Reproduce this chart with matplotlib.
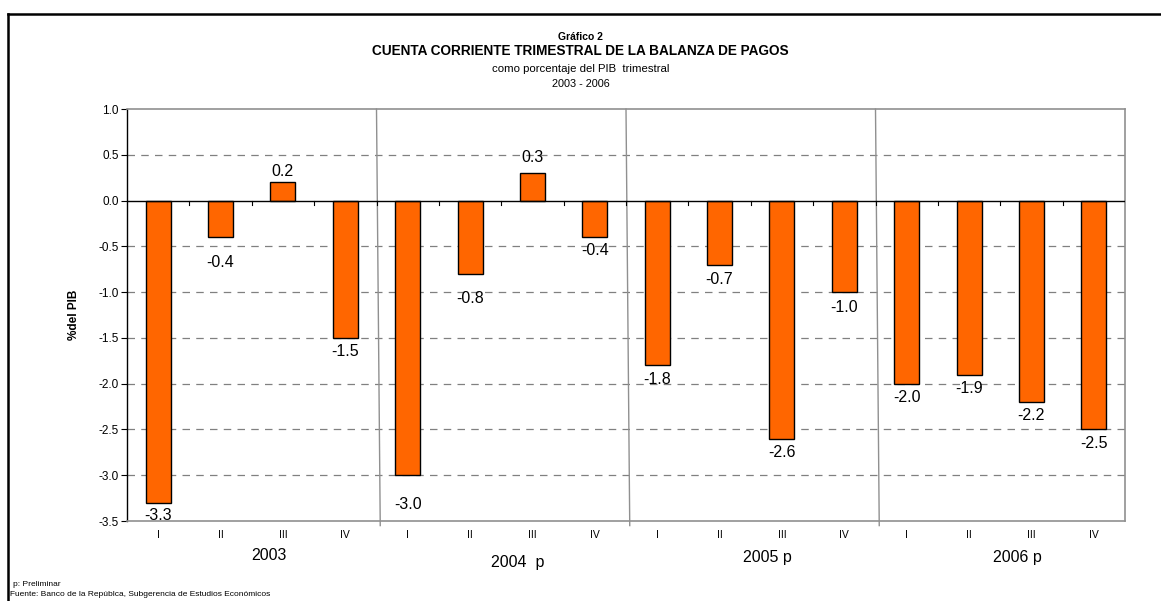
import matplotlib
matplotlib.use("Agg")
import matplotlib.pyplot as plt
from matplotlib.lines import Line2D
import numpy as np

plt.rcParams['font.family'] = ['Liberation Sans', 'DejaVu Sans']

quarters = ["I", "II", "III", "IV"] * 4
years = ["2003", "2004  p", "2005 p", "2006 p"]
values = [-3.3, -0.4, 0.2, -1.5,
          -3.0, -0.8, 0.3, -0.4,
          -1.8, -0.7, -2.6, -1.0,
          -2.0, -1.9, -2.2, -2.5]
yticks = [1.0, 0.5, 0.0, -0.5, -1.0, -1.5, -2.0, -2.5, -3.0, -3.5]

# extra vertical nudge (points) of each data label away from its bar
label_nudge = [-1, 8, 0, 0,
               11, 8, 4, 0,
               0, 1, 0, 1,
               0, 0, 0, 0]

fig = plt.figure(figsize=(11.61, 6.01), dpi=100)
ax = fig.add_axes([127/1161, 1-521/601, (1125-127)/1161, (521-109)/601])

x = np.arange(len(values))
ax.bar(x, values, width=0.4, color="#FF6600", edgecolor="black", linewidth=1.0, zorder=3)

ax.set_xlim(-0.5, len(values)-0.5)
ax.set_ylim(-3.5, 1.0)
ax.set_yticks(yticks)
ax.set_yticklabels([f"{v:.1f}" for v in yticks], fontsize=8.5)

for v in yticks:
    if v not in (1.0, -3.5, 0.0):
        ax.axhline(v, color="#808080", linestyle=(0, (6, 5)), linewidth=0.9, zorder=1)

ax.axhline(0, color="black", linewidth=1.0, zorder=4)
for b in np.arange(0.5, len(values)-0.5, 1.0):
    ax.plot([b, b], [0, -0.045], color="black", linewidth=0.8, zorder=4)

for g in range(1, 4):
    b = 4*g - 0.5
    ax.plot([b, b+0.06], [1.0, -3.55], color="#909090", linewidth=1.0, zorder=2, clip_on=False)

for s in ["top", "right", "bottom"]:
    ax.spines[s].set_color("#909090")
    ax.spines[s].set_linewidth(1.2)
ax.spines["left"].set_color("black")
ax.spines["left"].set_linewidth(1.0)

ax.tick_params(axis="y", length=4, width=0.8, pad=2, direction="out")
ax.set_xticks([])

for i, q in enumerate(quarters):
    ax.text(i, -3.65, q, ha="center", va="center", fontsize=7.5)

year_y = [-3.88, -3.95, -3.90, -3.90]
for g, yl in enumerate(years):
    ax.text(4*g + 1.77, year_y[g], yl, ha="center", va="center", fontsize=11.5)

for i, v in enumerate(values):
    if v >= 0:
        ax.annotate(f"{v:.1f}", (i, v), xytext=(0, 2 + label_nudge[i]), textcoords="offset points",
                    ha="center", va="bottom", fontsize=11.5, zorder=5)
    else:
        ax.annotate(f"{v:.1f}", (i, v), xytext=(0, -4.5 - label_nudge[i]), textcoords="offset points",
                    ha="center", va="top", fontsize=11.5, zorder=5)

ax.set_ylabel("%del PIB", fontsize=8.5, fontweight="bold", labelpad=13)

fig.text(0.5, 1-37/601, "Gráfico 2", ha="center", va="center", fontsize=7.5, fontweight="bold")
fig.text(0.5, 1-51/601, "CUENTA CORRIENTE TRIMESTRAL DE LA BALANZA DE PAGOS", ha="center", va="center",
         fontsize=9.8, fontweight="bold")
fig.text(0.5, 1-69/601, "como porcentaje del PIB  trimestral", ha="center", va="center", fontsize=8.2)
fig.text(0.5, 1-84/601, "2003 - 2006", ha="center", va="center", fontsize=7.8)

fig.text(13/1161, 1-585/601, "p: Preliminar", ha="left", va="center", fontsize=6)
fig.text(10/1161, 1-594/601, "Fuente: Banco de la Repúblca, Subgerencia de Estudios Económicos",
         ha="left", va="center", fontsize=6)

fig.add_artist(Line2D([8/1161, 8/1161], [0, 1-14/601], transform=fig.transFigure, color="black", linewidth=1.8))
fig.add_artist(Line2D([8/1161, 1], [1-14/601, 1-14/601], transform=fig.transFigure, color="black", linewidth=1.8))

fig.savefig("out.png", dpi=100)
